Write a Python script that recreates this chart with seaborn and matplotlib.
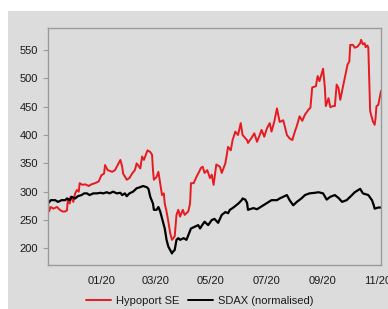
import matplotlib
matplotlib.use("Agg")
import matplotlib.pyplot as plt
import matplotlib.dates as mdates
from matplotlib.patches import Rectangle
from matplotlib.lines import Line2D
import pandas as pd
import seaborn as sns

# ---------------- data ----------------
hypo_dates = [
    "2019-11-03", "2019-11-04", "2019-11-06", "2019-11-09", "2019-11-13", "2019-11-16",
    "2019-11-19", "2019-11-22", "2019-11-24", "2019-11-25", "2019-11-27", "2019-11-28",
    "2019-12-01", "2019-12-03", "2019-12-05", "2019-12-07", "2019-12-08", "2019-12-11",
    "2019-12-14", "2019-12-18", "2019-12-21", "2019-12-25", "2019-12-29", "2020-01-01",
    "2020-01-04", "2020-01-05", "2020-01-08", "2020-01-13", "2020-01-16", "2020-01-18",
    "2020-01-22", "2020-01-24", "2020-01-25", "2020-01-29", "2020-02-01", "2020-02-04",
    "2020-02-07", "2020-02-09", "2020-02-13", "2020-02-15", "2020-02-17", "2020-02-21",
    "2020-02-24", "2020-02-26", "2020-02-27", "2020-02-28", "2020-03-02", "2020-03-04",
    "2020-03-06", "2020-03-08", "2020-03-10", "2020-03-11", "2020-03-13", "2020-03-15",
    "2020-03-17", "2020-03-19", "2020-03-20", "2020-03-22", "2020-03-24", "2020-03-26",
    "2020-03-28", "2020-03-31", "2020-04-02", "2020-04-06", "2020-04-08", "2020-04-09",
    "2020-04-12", "2020-04-15", "2020-04-18", "2020-04-20", "2020-04-22", "2020-04-24",
    "2020-04-27", "2020-04-30", "2020-05-02", "2020-05-04", "2020-05-07", "2020-05-11",
    "2020-05-13", "2020-05-17", "2020-05-20", "2020-05-23", "2020-05-25", "2020-05-28",
    "2020-05-31", "2020-06-03", "2020-06-05", "2020-06-10", "2020-06-11", "2020-06-15",
    "2020-06-18", "2020-06-21", "2020-06-24", "2020-06-26", "2020-06-29", "2020-07-02",
    "2020-07-05", "2020-07-07", "2020-07-10", "2020-07-13", "2020-07-16", "2020-07-20",
    "2020-07-24", "2020-07-27", "2020-07-30", "2020-08-02", "2020-08-04", "2020-08-07",
    "2020-08-10", "2020-08-13", "2020-08-17", "2020-08-19", "2020-08-21", "2020-08-25",
    "2020-08-27", "2020-08-29", "2020-08-31", "2020-09-02", "2020-09-04", "2020-09-05",
    "2020-09-08", "2020-09-10", "2020-09-13", "2020-09-15", "2020-09-17", "2020-09-19",
    "2020-09-21", "2020-09-24", "2020-09-26", "2020-09-29", "2020-10-01", "2020-10-02",
    "2020-10-05", "2020-10-07", "2020-10-10", "2020-10-13", "2020-10-14", "2020-10-16",
    "2020-10-18", "2020-10-19", "2020-10-21", "2020-10-22", "2020-10-24", "2020-10-26",
    "2020-10-27", "2020-10-29", "2020-10-30", "2020-10-31", "2020-11-02", "2020-11-05",
]
hypo_values = [
    279, 265, 273, 270, 273, 268,
    265, 265, 267, 288, 279, 291,
    282, 297, 303, 300, 315, 312,
    313, 310, 313, 315, 318, 329,
    332, 347, 338, 335, 338, 344,
    356, 344, 332, 321, 324, 332,
    338, 350, 341, 362, 356, 373,
    370, 365, 338, 321, 326, 335,
    315, 294, 297, 279, 265, 247,
    227, 215, 217, 221, 259, 268,
    256, 268, 259, 265, 279, 315,
    315, 326, 335, 342, 344, 333,
    338, 324, 330, 312, 348, 344,
    333, 350, 379, 373, 391, 406,
    400, 421, 400, 391, 386, 395,
    403, 388, 400, 409, 397, 412,
    421, 406, 423, 447, 423, 426,
    400, 394, 391, 407, 416, 433,
    425, 436, 445, 448, 484, 486,
    504, 495, 506, 517, 483, 451,
    465, 449, 451, 451, 489, 483,
    462, 486, 501, 524, 530, 559,
    559, 554, 556, 562, 568, 560,
    562, 555, 558, 554, 442, 430,
    424, 418, 430, 451, 453, 478,
]

sdax_dates = [
    "2019-11-03", "2019-11-06", "2019-11-11", "2019-11-14", "2019-11-18", "2019-11-22",
    "2019-11-24", "2019-11-27", "2019-11-29", "2019-12-03", "2019-12-06", "2019-12-10",
    "2019-12-13", "2019-12-16", "2019-12-19", "2019-12-23", "2019-12-27", "2019-12-31",
    "2020-01-03", "2020-01-07", "2020-01-10", "2020-01-14", "2020-01-18", "2020-01-22",
    "2020-01-24", "2020-01-27", "2020-01-29", "2020-02-01", "2020-02-05", "2020-02-09",
    "2020-02-13", "2020-02-16", "2020-02-20", "2020-02-22", "2020-02-24", "2020-02-27",
    "2020-02-28", "2020-03-02", "2020-03-04", "2020-03-06", "2020-03-09", "2020-03-11",
    "2020-03-13", "2020-03-15", "2020-03-17", "2020-03-19", "2020-03-20", "2020-03-22",
    "2020-03-24", "2020-03-26", "2020-03-28", "2020-04-01", "2020-04-04", "2020-04-06",
    "2020-04-09", "2020-04-13", "2020-04-17", "2020-04-19", "2020-04-21", "2020-04-24",
    "2020-04-28", "2020-05-02", "2020-05-05", "2020-05-09", "2020-05-13", "2020-05-17",
    "2020-05-20", "2020-05-22", "2020-05-25", "2020-05-29", "2020-06-01", "2020-06-04",
    "2020-06-05", "2020-06-08", "2020-06-10", "2020-06-11", "2020-06-17", "2020-06-21",
    "2020-06-26", "2020-07-02", "2020-07-07", "2020-07-13", "2020-07-16", "2020-07-20",
    "2020-07-24", "2020-07-27", "2020-07-31", "2020-08-04", "2020-08-09", "2020-08-13",
    "2020-08-18", "2020-08-24", "2020-08-28", "2020-09-02", "2020-09-06", "2020-09-10",
    "2020-09-15", "2020-09-19", "2020-09-23", "2020-09-28", "2020-10-02", "2020-10-07",
    "2020-10-10", "2020-10-13", "2020-10-16", "2020-10-22", "2020-10-26", "2020-10-28",
    "2020-10-29", "2020-11-02", "2020-11-05",
]
sdax_values = [
    279, 285, 285, 282, 285, 285,
    288, 285, 291, 288, 292, 294,
    297, 297, 294, 297, 297, 298,
    297, 299, 297, 300, 297, 298,
    294, 297, 292, 297, 300, 306,
    308, 310, 308, 305, 291, 279,
    268, 268, 273, 265, 247, 235,
    215, 203, 197, 191, 194, 197,
    215, 218, 215, 218, 215, 223,
    235, 238, 241, 235, 240, 247,
    241, 250, 252, 245, 259, 264,
    262, 268, 271, 276, 280, 285,
    288, 286, 280, 268, 271, 269,
    274, 280, 285, 285, 288, 291,
    294, 285, 276, 282, 288, 294,
    297, 298, 299, 297, 286, 291,
    294, 289, 282, 285, 291, 299,
    302, 305, 297, 294, 285, 276,
    270, 272, 272,
]

series_names = ["Hypoport SE", "SDAX (normalised)"]
series_colors = ["#e8191f", "#000000"]
y_ticks = [200, 250, 300, 350, 400, 450, 500, 550]
x_tick_dates = ["2020-01-01", "2020-03-01", "2020-05-01", "2020-07-01", "2020-09-01", "2020-11-01"]

# ---------------- build table ----------------
df = pd.concat([
    pd.DataFrame({"date": pd.to_datetime(hypo_dates), "value": hypo_values, "series": series_names[0]}),
    pd.DataFrame({"date": pd.to_datetime(sdax_dates), "value": sdax_values, "series": series_names[1]}),
], ignore_index=True)

sns.set_style("white")
plt.rcParams["font.family"] = ["Liberation Sans", "DejaVu Sans"]

W, H = 388, 309
fig = plt.figure(figsize=(W / 100, H / 100), dpi=100)
fig.patch.set_facecolor("white")
bg = "#dcdcdc"
fig.patches.append(Rectangle((8 / W, 0), 1, (H - 11) / H, transform=fig.transFigure,
                             facecolor=bg, edgecolor="none", zorder=-10))

ax = fig.add_axes([48 / W, 1 - 265 / H, (381 - 48) / W, (265 - 28) / H])
ax.set_facecolor(bg)

sns.lineplot(data=df, x="date", y="value", hue="series", palette=dict(zip(series_names, series_colors)),
             hue_order=series_names, ax=ax, linewidth=1.4, legend=False, estimator=None)
for line, lw in zip(ax.get_lines(), [1.4, 1.6]):
    line.set_linewidth(lw)

ax.set_xlim(pd.Timestamp("2019-11-03"), pd.Timestamp("2020-11-05"))
ax.set_ylim(170.6, 588.8)
ax.set_yticks(y_ticks)
ax.set_xticks(pd.to_datetime(x_tick_dates))
ax.xaxis.set_major_formatter(mdates.DateFormatter("%m/%y"))
ax.set_xlabel("")
ax.set_ylabel("")

for s in ax.spines.values():
    s.set_visible(True)
    s.set_color("#9a9a9a")
    s.set_linewidth(1.0)

ax.tick_params(axis="y", length=3.5, width=0.8, color="#9a9a9a", pad=3.5, labelsize=8, labelcolor="#1a1a1a", left=True)
ax.tick_params(axis="x", length=0, pad=8, labelsize=8, labelcolor="#1a1a1a")

handles = [Line2D([], [], color=c, lw=1.4) for c in series_colors]
fig.legend(handles, series_names, loc="center", bbox_to_anchor=(200 / W, 1 - 300.5 / H), ncol=2,
           frameon=False, fontsize=8, handlelength=2.2, handletextpad=0.5, columnspacing=0.8,
           labelcolor="#1a1a1a")

fig.savefig("out.png", dpi=100, facecolor=fig.get_facecolor())
